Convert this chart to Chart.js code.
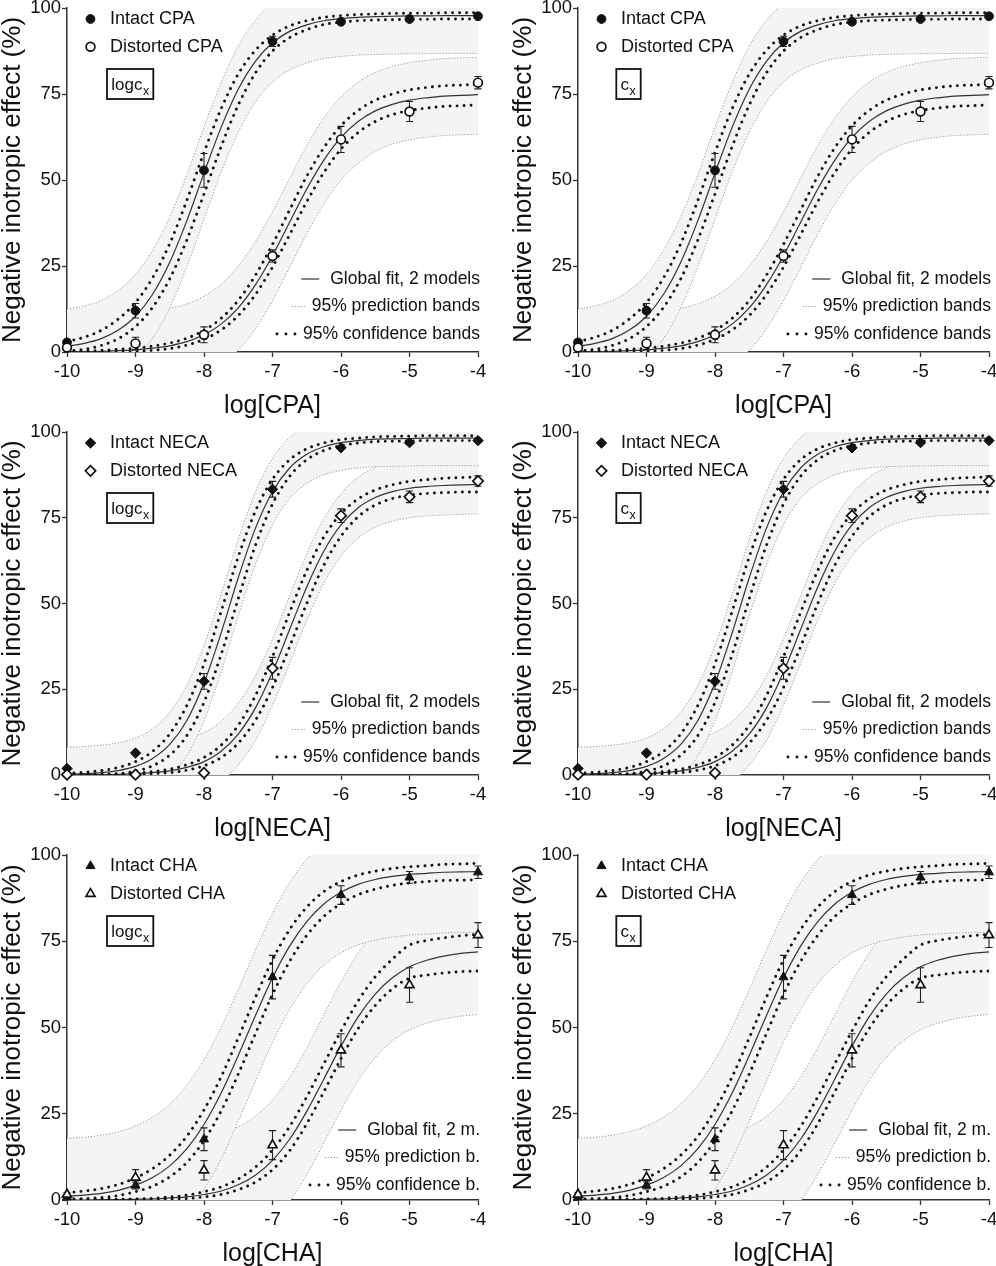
<!DOCTYPE html>
<html><head><meta charset="utf-8">
<script src="https://cdn.jsdelivr.net/npm/chart.js@4.4.1/dist/chart.umd.min.js"></script>
<style>
html,body{margin:0;padding:0;background:#fff;overflow:hidden;width:996px;height:1266px;position:relative;}
canvas{position:absolute;}
</style></head><body>
<script>
// ---------- data ----------
const curveX = [-10,-9.75,-9.5,-9.25,-9,-8.75,-8.5,-8.25,-8,-7.75,-7.5,-7.25,-7,-6.75,-6.5,-6.25,-6,-5.75,-5.5,-5.25,-5,-4.75,-4.5,-4.25,-4];
const doseX = [-10,-9,-8,-7,-6,-5,-4];
const xTicks = [-10,-9,-8,-7,-6,-5,-4];
const yTicks = [0,25,50,75,100];

// CPA
const cpaIntactMean = [2.8, 12.0, 52.8, 90.3, 96.0, 96.8, 97.6];
const cpaIntactSem  = [0.4, 2.1, 4.9, 1.5, 0.6, 0.5, 0.4];
const cpaDistMean   = [1.3, 2.5, 5.0, 27.9, 61.8, 69.9, 78.3];
const cpaDistSem    = [0.3, 1.8, 2.3, 1.8, 3.8, 2.9, 1.8];
const cpaIntactFit  = [1.7,2.5,3.9,6.4,10.4,16.8,26.1,38.2,52.0,65.3,76.4,84.5,89.9,93.2,95.1,96.3,96.9,97.3,97.5,97.6,97.7,97.7,97.8,97.8,97.8];
const cpaIntactCiHi = [3.0,4.3,6.3,9.6,14.4,21.6,31.5,44.1,58.0,70.7,80.8,87.7,92.1,94.8,96.3,97.3,97.8,98.1,98.3,98.4,98.5,98.5,98.6,98.6,98.6];
const cpaIntactCiLo = [0.3,0.8,1.9,3.9,7.4,13.0,21.3,32.6,46.0,59.7,71.8,81.1,87.5,91.4,93.7,95.2,95.9,96.3,96.5,96.6,96.7,96.7,96.8,96.8,96.8];
const cpaIntactPiHi = [12.5,13.4,15.0,17.9,22.6,29.6,39.3,51.6,65.4,78.3,88.9,96.4,101.3,104.4,106.2,107.3,107.9,108.3,108.5,108.6,108.7,108.7,108.8,108.8,108.8];
const cpaIntactPiLo = [-9.1,-8.4,-7.2,-5.1,-1.8,4.0,12.9,24.8,38.6,52.3,63.9,72.6,78.5,82.0,84.0,85.3,85.9,86.3,86.5,86.6,86.7,86.7,86.8,86.8,86.8];
const cpaDistFit    = [0.1,0.1,0.2,0.4,0.6,1.1,1.8,3.0,5.0,8.1,12.8,19.5,28.0,37.7,47.4,55.8,62.4,67.0,70.1,72.0,73.2,73.9,74.4,74.6,74.8];
const cpaDistCiHi   = [0.3,0.3,0.5,0.8,1.1,1.7,2.6,4.0,6.3,9.8,15.0,22.3,31.3,41.3,51.1,59.4,65.8,70.2,73.2,75.0,76.2,76.9,77.4,77.6,77.8];
const cpaDistCiLo   = [-0.1,-0.1,-0.1,0.0,0.1,0.5,1.0,2.0,3.7,6.4,10.6,16.7,24.7,34.1,43.7,52.2,59.0,63.8,67.0,69.0,70.2,70.9,71.4,71.6,71.8];
const cpaDistPiHi   = [11.0,11.0,11.1,11.3,11.5,12.0,12.7,14.0,16.2,19.7,25.0,32.1,40.8,50.5,60.0,68.0,74.2,78.4,81.3,83.0,84.1,84.8,85.3,85.5,85.7];
const cpaDistPiLo   = [-10.8,-10.8,-10.7,-10.5,-10.3,-9.8,-9.1,-8.0,-6.2,-3.5,0.5,6.7,14.9,24.5,34.3,43.0,50.0,54.9,58.3,60.4,61.7,62.4,62.9,63.1,63.3];

// NECA
const necaIntactMean = [1.9, 6.4, 27.3, 83.3, 95.4, 96.9, 97.5];
const necaIntactSem  = [0.3, 0.4, 2.3, 2.3, 0.5, 0.5, 0.4];
const necaDistMean   = [0.1, 0.1, 0.6, 31.1, 75.6, 81.1, 85.7];
const necaDistSem    = [0.1, 0.1, 0.3, 3.2, 2.0, 1.7, 1.5];
const necaIntactFit  = [0.2,0.4,0.7,1.3,2.5,4.8,8.9,15.9,26.8,41.4,57.5,71.9,82.6,89.5,93.5,95.7,96.9,97.5,97.9,98.0,98.1,98.2,98.2,98.2,98.2];
const necaIntactCiHi = [0.5,0.8,1.3,2.2,3.9,6.9,12.0,20.3,32.4,47.7,63.6,76.9,86.2,91.9,95.1,96.8,97.8,98.2,98.6,98.7,98.8,98.9,98.9,98.9,98.9];
const necaIntactCiLo = [-0.1,0.0,0.1,0.4,1.1,2.7,5.8,11.5,21.2,35.1,51.4,66.9,79.0,87.1,91.9,94.6,96.0,96.8,97.2,97.3,97.4,97.5,97.5,97.5,97.5];
const necaIntactPiHi = [8.1,8.3,8.7,9.4,10.8,13.5,18.3,26.2,37.8,52.7,68.7,82.5,92.3,98.4,102.0,103.9,105.0,105.5,105.9,106.0,106.1,106.2,106.2,106.2,106.2];
const necaIntactPiLo = [-7.7,-7.5,-7.3,-6.8,-5.8,-3.9,-0.5,5.6,15.8,30.1,46.3,61.3,72.9,80.6,85.0,87.5,88.8,89.5,89.9,90.0,90.1,90.2,90.2,90.2,90.2];
const necaDistFit    = [0.0,0.1,0.1,0.2,0.4,0.7,1.2,2.2,3.9,6.9,11.9,19.5,30.0,42.4,54.8,65.3,72.9,77.9,80.9,82.6,83.6,84.1,84.4,84.6,84.7];
const necaDistCiHi   = [0.1,0.2,0.2,0.3,0.6,1.0,1.7,3.0,5.1,8.7,14.5,23.1,34.5,47.4,59.6,69.4,76.2,80.5,83.1,84.6,85.6,86.1,86.5,86.7,86.9];
const necaDistCiLo   = [-0.1,0.0,0.0,0.1,0.2,0.4,0.7,1.4,2.7,5.1,9.3,15.9,25.5,37.4,50.0,61.2,69.6,75.3,78.7,80.6,81.6,82.1,82.3,82.5,82.5];
const necaDistPiHi   = [8.0,8.0,8.1,8.2,8.5,8.9,9.5,10.6,12.4,15.6,20.9,28.9,39.7,52.2,64.5,74.7,82.0,86.8,89.6,91.2,92.2,92.7,93.0,93.2,93.3];
const necaDistPiLo   = [-8.3,-8.2,-8.2,-8.1,-7.9,-7.6,-7.1,-6.2,-4.6,-1.8,2.9,10.1,20.3,32.6,45.1,55.9,63.8,69.0,72.2,74.0,75.0,75.5,75.8,76.0,76.1];

// CHA
const chaIntactMean = [0.8, 4.2, 17.6, 64.6, 88.4, 93.5, 95.0];
const chaIntactSem  = [0.3, 1.0, 3.3, 6.3, 2.7, 1.7, 1.8];
const chaDistMean   = [1.6, 6.5, 8.6, 15.9, 43.4, 62.3, 76.8];
const chaDistSem    = [0.5, 2.3, 2.8, 4.2, 4.8, 5.0, 3.6];
const chaIntactFit  = [1.1,1.4,1.9,2.8,4.3,6.5,9.9,14.9,21.9,31.0,41.9,53.4,64.4,73.6,80.7,85.8,89.2,91.5,92.9,93.8,94.4,94.7,95.0,95.1,95.2];
const chaIntactCiHi = [2.1,2.6,3.3,4.5,6.4,9.1,13.0,18.5,26.1,35.7,47.0,58.7,69.6,78.4,84.9,89.4,92.3,94.2,95.3,96.1,96.6,96.9,97.3,97.4,97.6];
const chaIntactCiLo = [0.2,0.4,0.7,1.3,2.4,4.0,6.7,10.9,17.2,25.8,36.5,48.2,59.6,69.2,76.7,82.2,85.9,88.5,90.1,91.2,91.9,92.3,92.6,92.7,92.8];
const chaIntactPiHi = [17.9,18.2,18.8,19.8,21.5,24.0,27.8,33.3,40.7,50.0,61.0,72.4,83.1,92.0,98.7,103.6,106.8,109.1,110.5,111.4,112.0,112.3,112.6,112.7,112.8];
const chaIntactPiLo = [-15.7,-15.4,-15.0,-14.2,-12.9,-11.0,-8.0,-3.5,3.1,12.0,22.8,34.4,45.7,55.2,62.7,68.0,71.6,73.9,75.3,76.2,76.8,77.1,77.4,77.5,77.6];
const chaDistFit    = [0.0,0.0,0.1,0.1,0.2,0.3,0.6,0.9,1.6,2.6,4.4,7.2,11.5,17.6,25.7,35.1,44.6,53.1,59.7,64.4,67.6,69.5,70.7,71.5,71.9];
const chaDistCiHi   = [0.1,0.1,0.2,0.2,0.3,0.5,0.9,1.4,2.4,3.8,6.1,9.5,14.5,21.3,29.9,39.5,49.0,57.7,64.7,69.8,73.9,75.2,76.0,76.6,77.0];
const chaDistCiLo   = [-0.1,-0.1,0.0,0.0,0.1,0.1,0.3,0.4,0.9,1.6,3.0,5.2,8.8,14.3,22.1,31.4,41.0,49.7,56.4,61.2,64.3,65.2,65.8,66.2,66.4];
const chaDistPiHi   = [16.5,16.5,16.6,16.6,16.7,16.8,17.1,17.4,18.1,19.2,21.2,24.3,29.0,35.6,44.1,53.7,63.2,71.6,78.1,82.7,85.9,87.8,88.9,89.7,90.0];
const chaDistPiLo   = [-16.5,-16.5,-16.4,-16.4,-16.3,-16.2,-15.9,-15.6,-14.9,-14.0,-12.4,-9.9,-6.0,-0.4,7.3,16.5,26.0,34.6,41.3,46.1,49.3,51.2,52.5,53.3,53.8];

const seriesLabels = [["Intact CPA","Distorted CPA"],["Intact NECA","Distorted NECA"],["Intact CHA","Distorted CHA"]];
const xTitles = ["log[CPA]","log[NECA]","log[CHA]"];
const yTitle = "Negative inotropic effect (%)";
const lineLegendLong = ["Global fit, 2 models","95% prediction bands","95% confidence bands"];
const lineLegendShort = ["Global fit, 2 m.","95% prediction b.","95% confidence b."];
const boxLabels = ["logc","c"];

// ---------- styling ----------
const FONT = "'Liberation Sans', Arial, Helvetica, sans-serif";
const INK = '#111';
const FILL = '#f4f4f4';
const PI_STYLE  = {borderColor:'#9a9a9a', borderWidth:1, borderDash:[1.2,1.8]};
const CI_STYLE  = {borderColor:'#111', borderWidth:2.9, borderDash:[0.01,7], borderCapStyle:'round'};
const FIT_STYLE = {borderColor:'#333', borderWidth:1.2};

const agonists = [
  {shape:'circle', r:4.4, iMean:cpaIntactMean, iSem:cpaIntactSem, dMean:cpaDistMean, dSem:cpaDistSem,
   iFit:cpaIntactFit, iCiHi:cpaIntactCiHi, iCiLo:cpaIntactCiLo, iPiHi:cpaIntactPiHi, iPiLo:cpaIntactPiLo,
   dFit:cpaDistFit, dCiHi:cpaDistCiHi, dCiLo:cpaDistCiLo, dPiHi:cpaDistPiHi, dPiLo:cpaDistPiLo},
  {shape:'rectRot', r:5.2, iMean:necaIntactMean, iSem:necaIntactSem, dMean:necaDistMean, dSem:necaDistSem,
   iFit:necaIntactFit, iCiHi:necaIntactCiHi, iCiLo:necaIntactCiLo, iPiHi:necaIntactPiHi, iPiLo:necaIntactPiLo,
   dFit:necaDistFit, dCiHi:necaDistCiHi, dCiLo:necaDistCiLo, dPiHi:necaDistPiHi, dPiLo:necaDistPiLo},
  {shape:'triangle', r:5.2, iMean:chaIntactMean, iSem:chaIntactSem, dMean:chaDistMean, dSem:chaDistSem,
   iFit:chaIntactFit, iCiHi:chaIntactCiHi, iCiLo:chaIntactCiLo, iPiHi:chaIntactPiHi, iPiLo:chaIntactPiLo,
   dFit:chaDistFit, dCiHi:chaDistCiHi, dCiLo:chaDistCiLo, dPiHi:chaDistPiHi, dPiLo:chaDistPiLo}
];

const rows = [{ct:8, cb:352, legendRows:[-73,-45.5,-18]},{ct:432, cb:775, legendRows:[-73,-45.5,-18]},{ct:855, cb:1200, legendRows:[-70,-42.5,-15]}];
const cols = [{left:0, width:498, padRight:20, box:0},{left:511, width:485, padRight:7, box:1}];

const PANEL = {};

function curve(ys){ return curveX.map((x,i)=>({x, y:ys[i]})); }
function pts(ys){ return doseX.map((x,i)=>({x, y:ys[i]})); }

function lineDs(ys, style, order, fill){
  return Object.assign({type:'line', data:curve(ys), pointRadius:0, cubicInterpolationMode:'monotone',
    fill: fill === undefined ? false : fill, backgroundColor:FILL, order}, style);
}
function ptDs(ys, sem, shape, r, filled, order){
  return {type:'line', data:pts(ys), showLine:false, pointStyle:shape, pointRadius:r, pointHoverRadius:r,
    pointBackgroundColor: filled ? INK : '#fff', pointBorderColor: INK, pointBorderWidth: filled ? 1 : 1.7,
    errorBars: sem, clip:false, order};
}

function drawMarker(ctx, shape, filled, x, y, r){
  ctx.save(); ctx.beginPath();
  if (shape === 'circle') ctx.arc(x, y, r, 0, Math.PI*2);
  else if (shape === 'rectRot') { ctx.moveTo(x-r,y); ctx.lineTo(x,y-r); ctx.lineTo(x+r,y); ctx.lineTo(x,y+r); ctx.closePath(); }
  else { for (let k=0;k<3;k++){ const a=k*2*Math.PI/3; const px=x+Math.sin(a)*r, py=y-Math.cos(a)*r; k?ctx.lineTo(px,py):ctx.moveTo(px,py);} ctx.closePath(); }
  ctx.fillStyle = filled ? INK : '#fff'; ctx.fill();
  ctx.lineWidth = filled ? 1 : 1.7; ctx.strokeStyle = INK; ctx.stroke();
  ctx.restore();
}

const decor = {
  id:'decor',
  beforeDatasetDraw(chart, args){
    const ds = chart.data.datasets[args.index];
    if (!ds.errorBars) return;
    const ctx = chart.ctx, xs = chart.scales.x, ys = chart.scales.y;
    ctx.save(); ctx.strokeStyle = '#222'; ctx.lineWidth = 1.1; ctx.setLineDash([]);
    ds.data.forEach((p,i)=>{
      const e = ds.errorBars[i]; if (!e) return;
      const px = xs.getPixelForValue(p.x), t = ys.getPixelForValue(p.y+e), b = ys.getPixelForValue(p.y-e);
      ctx.beginPath();
      ctx.moveTo(px,t); ctx.lineTo(px,b);
      ctx.moveTo(px-3.6,t); ctx.lineTo(px+3.6,t);
      ctx.moveTo(px-3.6,b); ctx.lineTo(px+3.6,b);
      ctx.stroke();
    });
    ctx.restore();
  },
  afterDraw(chart){
    const cfg = PANEL[chart.canvas.id]; if (!cfg) return;
    const ctx = chart.ctx; const {left:CL, top:CT, right:CR, bottom:CB} = chart.chartArea;
    ctx.save();
    // series legend
    ctx.font = `18px ${FONT}`; ctx.fillStyle = INK; ctx.textBaseline = 'middle'; ctx.textAlign = 'left';
    cfg.labels.forEach((lab,k)=>{
      const y = CT + (k ? 38.8 : 11);
      drawMarker(ctx, cfg.shape, k===0, CL+23.5, y, cfg.r);
      ctx.fillStyle = INK; ctx.fillText(lab, CL+43, y+0.5);
    });
    // box
    ctx.lineWidth = 1.8; ctx.strokeStyle = INK;
    const main = boxLabels[cfg.box];
    const bx = cfg.box === 0 ? CL+40 : CL+38.3;
    const bw = cfg.box === 0 ? 46.3 : 24.4;
    ctx.strokeRect(bx, CT+61, bw, 30);
    ctx.textBaseline = 'alphabetic'; ctx.font = `17px ${FONT}`;
    const tx = bx + 4.3;
    ctx.fillText(main, tx, CT+82);
    const mw = ctx.measureText(main).width;
    ctx.font = `12.5px ${FONT}`; ctx.fillText('x', tx+mw+0.5, CT+86.5);
    // line legend
    ctx.font = `17.5px ${FONT}`; ctx.textAlign = 'right'; ctx.textBaseline = 'middle';
    cfg.lines.forEach((txt,k)=>{
      const y = CB + cfg.legendRows[k];
      const rx = CR + 2;
      ctx.fillStyle = INK; ctx.fillText(txt, rx, y);
      const lx = rx - ctx.measureText(txt).width;
      ctx.beginPath();
      if (k === 0) { ctx.setLineDash([]); ctx.strokeStyle='#333'; ctx.lineWidth=1.2; ctx.moveTo(lx-29,y); ctx.lineTo(lx-11,y); }
      else if (k === 1) { ctx.setLineDash(PI_STYLE.borderDash); ctx.strokeStyle=PI_STYLE.borderColor; ctx.lineWidth=1; ctx.moveTo(lx-20,y); ctx.lineTo(lx-5,y); }
      else { ctx.setLineDash([0.01,9]); ctx.lineCap='round'; ctx.strokeStyle=INK; ctx.lineWidth=2.9; ctx.moveTo(lx-26,y); ctx.lineTo(lx-7.9,y); }
      ctx.stroke(); ctx.setLineDash([]); ctx.lineCap='butt';
    });
    ctx.restore();
  }
};

function scaleFont(size){ return {family:FONT, size}; }

rows.forEach((row, r)=>{
  cols.forEach((col, c)=>{
    const A = agonists[r];
    const id = `p${r}${c}`;
    const cv = document.createElement('canvas');
    cv.id = id;
    const top = row.ct - 12, h = row.cb - row.ct + 82;
    cv.width = col.width; cv.height = h;
    cv.style.left = col.left+'px'; cv.style.top = top+'px';
    cv.style.width = col.width+'px'; cv.style.height = h+'px';
    document.body.appendChild(cv);
    PANEL[id] = {labels:seriesLabels[r], shape:A.shape, r:A.r, box:col.box,
      lines: r===2 ? lineLegendShort : lineLegendLong, legendRows: row.legendRows};

    const datasets = [
      lineDs(A.dPiHi, PI_STYLE, 9, {target:1}),
      lineDs(A.dPiLo, PI_STYLE, 8),
      lineDs(A.iPiHi, PI_STYLE, 7, {target:3}),
      lineDs(A.iPiLo, PI_STYLE, 6),
      lineDs(A.dCiHi, CI_STYLE, 5),
      lineDs(A.dCiLo, CI_STYLE, 5),
      lineDs(A.dFit, FIT_STYLE, 5),
      lineDs(A.iCiHi, CI_STYLE, 4),
      lineDs(A.iCiLo, CI_STYLE, 4),
      lineDs(A.iFit, FIT_STYLE, 4),
      ptDs(A.iMean, A.iSem, A.shape, A.r, true, 2),
      ptDs(A.dMean, A.dSem, A.shape, A.r, false, 1)
    ];

    new Chart(cv, {
      type:'line',
      data:{datasets},
      plugins:[decor],
      options:{
        responsive:false, animation:false, devicePixelRatio:1,
        layout:{padding:{top:12, right:col.padRight, left:0, bottom:0}},
        plugins:{legend:{display:false}, tooltip:{enabled:false}, filler:{propagate:false}},
        events:[],
        scales:{
          x:{type:'linear', min:xTicks[0], max:xTicks[xTicks.length-1],
             afterBuildTicks(s){ s.ticks = xTicks.map(v=>({value:v})); },
             ticks:{color:INK, font:scaleFont(18.5), padding:4, maxRotation:0, autoSkip:false},
             grid:{drawOnChartArea:false, drawTicks:true, tickLength:5, color:'#333', tickColor:'#333', tickWidth:1.3},
             border:{display:true, color:'#333', width:1.5},
             title:{display:true, text:xTitles[r], color:INK, font:{family:FONT, size:25, lineHeight:1}, padding:{top:0, bottom:3.5}},
             afterFit(s){ s.height = 70; s.paddingLeft = 0; s.paddingRight = 0; }},
          y:{type:'linear', min:yTicks[0], max:yTicks[yTicks.length-1],
             afterBuildTicks(s){ s.ticks = yTicks.map(v=>({value:v})); },
             ticks:{color:INK, font:scaleFont(18.5), padding:1},
             grid:{drawOnChartArea:false, drawTicks:true, tickLength:5, color:'#333', tickColor:'#333', tickWidth:1.3},
             border:{display:true, color:'#333', width:1.5},
             title:{display:true, text:yTitle, color:INK, font:{family:FONT, size:26, lineHeight:1}, padding:{top:0, bottom:0}},
             afterFit(s){ s.width = 67; s.paddingTop = 0; s.paddingBottom = 0; }}
        }
      }
    });
  });
});
</script>
</body></html>
